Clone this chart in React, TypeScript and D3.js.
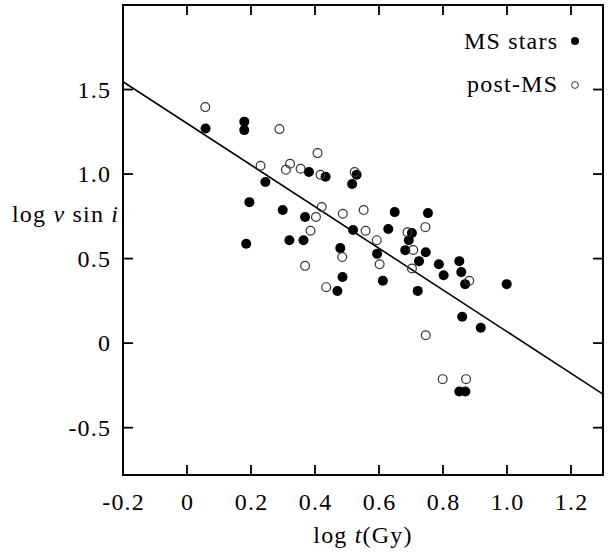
import React from 'react';
import * as d3 from 'd3';

// values: [log t (Gy), log v sin i]
const msStars: [number, number][] = [
  [0.058, 1.27], [0.179, 1.31], [0.179, 1.26], [0.245, 0.953], [0.195, 0.834],
  [0.299, 0.787], [0.185, 0.588], [0.32, 0.609], [0.364, 0.609], [0.369, 0.746],
  [0.381, 1.012], [0.433, 0.984], [0.53, 0.996], [0.516, 0.941], [0.519, 0.669],
  [0.629, 0.675], [0.649, 0.775], [0.753, 0.769], [0.703, 0.651], [0.693, 0.609],
  [0.682, 0.55], [0.594, 0.528], [0.479, 0.562], [0.486, 0.391], [0.47, 0.308],
  [0.612, 0.369], [0.746, 0.538], [0.725, 0.485], [0.787, 0.467], [0.851, 0.485],
  [0.857, 0.42], [0.802, 0.402], [0.869, 0.349], [0.999, 0.349], [0.721, 0.309],
  [0.86, 0.156], [0.918, 0.091], [0.851, -0.286], [0.87, -0.286],
];

const postMS: [number, number][] = [
  [0.057, 1.396], [0.289, 1.266], [0.23, 1.049], [0.322, 1.061], [0.309, 1.025],
  [0.355, 1.031], [0.408, 1.124], [0.417, 0.996], [0.524, 1.012], [0.421, 0.805],
  [0.403, 0.746], [0.487, 0.765], [0.552, 0.787], [0.386, 0.665], [0.558, 0.665],
  [0.689, 0.656], [0.593, 0.609], [0.602, 0.467], [0.369, 0.457], [0.485, 0.509],
  [0.435, 0.331], [0.745, 0.686], [0.707, 0.551], [0.703, 0.441], [0.882, 0.369],
  [0.746, 0.047], [0.799, -0.213], [0.872, -0.213],
];

const xTicks = [-0.2, 0, 0.2, 0.4, 0.6, 0.8, 1.0, 1.2];
const xTickLabels = ['-0.2', '0', '0.2', '0.4', '0.6', '0.8', '1.0', '1.2'];
const yTicks = [-0.5, 0, 0.5, 1.0, 1.5];
const yTickLabels = ['-0.5', '0', '0.5', '1.0', '1.5'];

// fitted line: log v sin i = a + b log t
const fitIntercept = 1.30;
const fitSlope = -1.232;

const W = 609;
const H = 554;
const margin = { top: 5, right: 6, bottom: 79, left: 123 };
const font = '"Liberation Serif", serif';
const ls = 1.2; // CM is wider than Times, pad it out a bit

const App = () => {
  const x = d3.scaleLinear().domain([-0.2, 1.3]).range([margin.left, W - margin.right]);
  const y = d3.scaleLinear().domain([-0.78, 2.0]).range([H - margin.bottom, margin.top]);
  const [x0, x1] = x.range();
  const [y0, y1] = y.range();
  const tick = 10;

  const fit = d3.line<number>()
    .x(d => x(d))
    .y(d => y(fitIntercept + fitSlope * d));

  return (
    <svg width={W} height={H} style={{ position: 'absolute', left: 0, top: 0, background: '#fff' }}
      fontFamily={font}>
      <defs>
        <clipPath id="plot">
          <rect x={x0} y={y1} width={x1 - x0} height={y0 - y1} />
        </clipPath>
      </defs>

      {/* ticks, all four sides, pointing in */}
      <g stroke="#000" strokeWidth={1.8}>
        {xTicks.filter(t => t > -0.2).map(t => (
          <g key={'xt' + t}>
            <line x1={x(t)} x2={x(t)} y1={y0} y2={y0 - tick} />
            <line x1={x(t)} x2={x(t)} y1={y1} y2={y1 + tick} />
          </g>
        ))}
        {yTicks.map(t => (
          <g key={'yt' + t}>
            <line x1={x0} x2={x0 + tick} y1={y(t)} y2={y(t)} />
            <line x1={x1} x2={x1 - tick} y1={y(t)} y2={y(t)} />
          </g>
        ))}
      </g>

      <g fontSize={24} fill="#000" letterSpacing={ls}>
        {xTicks.map((t, i) => (
          <text key={'xl' + t} x={x(t) + ls / 2} y={y0 + 35} textAnchor="middle">{xTickLabels[i]}</text>
        ))}
        {yTicks.map((t, i) => (
          <text key={'yl' + t} x={x0 - 13 + ls} y={y(t) + 8} textAnchor="end">{yTickLabels[i]}</text>
        ))}
        <text x={(x0 + x1) / 2} y={543} textAnchor="middle">
          log <tspan fontStyle="italic">t</tspan>(Gy)
        </text>
        <text x={12} y={222}>
          log <tspan fontStyle="italic">v</tspan> sin <tspan fontStyle="italic">i</tspan>
        </text>
      </g>

      <g clipPath="url(#plot)">
        <path d={fit([-0.2, 1.3]) || ''} fill="none" stroke="#000" strokeWidth={1.6} />
        {msStars.map((d, i) => (
          <circle key={'ms' + i} cx={x(d[0])} cy={y(d[1])} r={5} fill="#000" />
        ))}
        {postMS.map((d, i) => (
          <circle key={'pm' + i} cx={x(d[0])} cy={y(d[1])} r={4.4}
            fill="#fff" fillOpacity={0} stroke="#333" strokeWidth={1.2} />
        ))}
      </g>

      {/* legend */}
      <g fontSize={24} fill="#000" letterSpacing={ls}>
        <text x={557 + ls} y={49} textAnchor="end">MS stars</text>
        <circle cx={575} cy={41} r={4} fill="#000" />
        <text x={557 + ls} y={92} textAnchor="end">post-MS</text>
        <circle cx={575} cy={85} r={3.4} fill="none" stroke="#333" strokeWidth={1} />
      </g>

      <rect x={x0} y={y1} width={x1 - x0} height={y0 - y1} fill="none" stroke="#000" strokeWidth={2} />
    </svg>
  );
};

export default App;
